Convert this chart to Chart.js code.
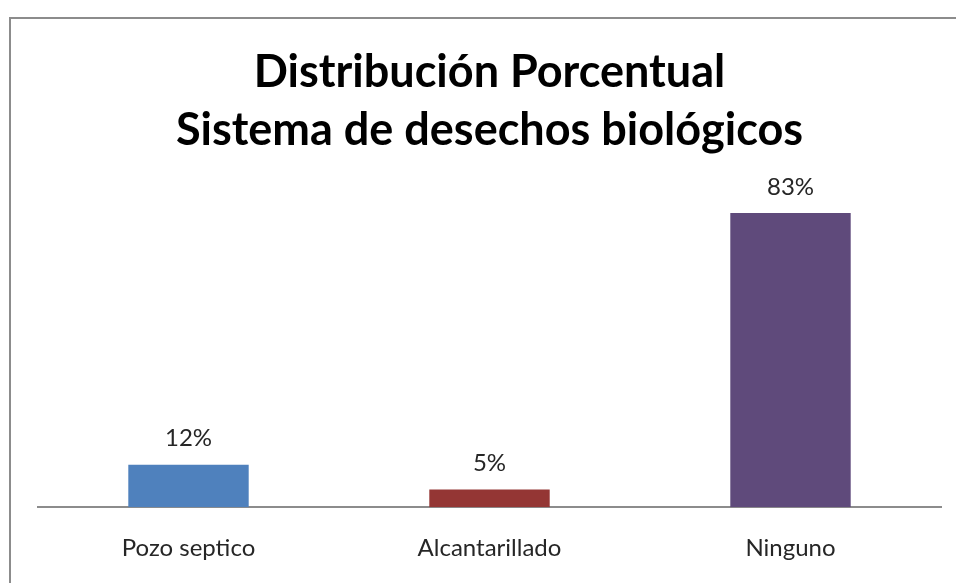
<!DOCTYPE html>
<html>
<head>
<meta charset="utf-8">
<script src="https://cdn.jsdelivr.net/npm/chart.js@4.4.1/dist/chart.umd.min.js"></script>
<style>
    html, body { margin: 0; padding: 0; background: #fff; overflow: hidden; }
    .wrap { position: relative; width: 956px; height: 583px; overflow: hidden; }
    .frame {
        position: absolute; left: 9px; top: 17px;
        width: 1000px; height: 700px;
        border: 2px solid #8c8c8c; box-sizing: border-box;
    }
    canvas { position: absolute; left: 0; top: 0; }
</style>
</head>
<body>
<div class="wrap">
    <div class="frame"></div>
    <canvas id="chart" width="956" height="583"></canvas>
</div>
<script>
const categories = ['Pozo septico', 'Alcantarillado', 'Ninguno'];
const percentages = [12, 5, 83];
const barColors = ['#4f81bd', '#943634', '#5f4a7b'];
const titleLines = ['Distribución Porcentual', 'Sistema de desechos biológicos'];

// draws "NN%" above every bar
const valueLabels = {
    id: 'valueLabels',
    afterDatasetsDraw(chart) {
        const ctx = chart.ctx;
        const meta = chart.getDatasetMeta(0);
        ctx.save();
        ctx.font = '24px Lato';
        ctx.fillStyle = '#262626';
        ctx.textAlign = 'center';
        ctx.textBaseline = 'middle';
        meta.data.forEach((bar, i) => {
            ctx.fillText(percentages[i] + '%', bar.x, bar.y - 26);
        });
        ctx.restore();
    }
};

const ctx = document.getElementById('chart').getContext('2d');
new Chart(ctx, {
    type: 'bar',
    data: {
        labels: categories,
        datasets: [{
            data: percentages,
            backgroundColor: barColors,
            borderWidth: 0,
            categoryPercentage: 1,
            barPercentage: 0.4
        }]
    },
    options: {
        responsive: false,
        animation: false,
        layout: {
            padding: { left: 38, right: 15, top: 0, bottom: -7 }
        },
        plugins: {
            legend: { display: false },
            tooltip: { enabled: false },
            title: {
                display: true,
                text: titleLines,
                color: '#000',
                font: { family: 'Lato', size: 45, weight: 'bold', lineHeight: 1.28 },
                padding: { top: 44, bottom: 29 }
            }
        },
        scales: {
            y: {
                display: false,
                min: 0,
                max: 90
            },
            x: {
                grid: { display: false, drawTicks: false },
                border: { color: '#8c8c8c', width: 2 },
                ticks: {
                    color: '#262626',
                    padding: 27,
                    font: { family: 'Lato', size: 24 }
                }
            }
        }
    },
    plugins: [valueLabels]
});
</script>
</body>
</html>
